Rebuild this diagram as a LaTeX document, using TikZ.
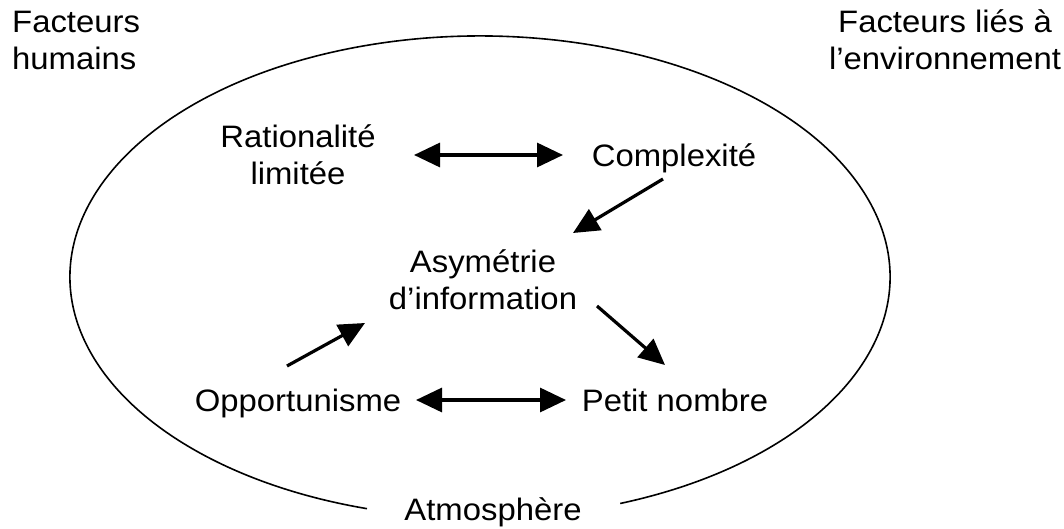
\documentclass[tikz,border=0pt]{standalone}
\usepackage{fontspec}
\setmainfont{Liberation Sans}[FakeStretch=1.06]
\usetikzlibrary{arrows.meta}
\begin{document}
\begin{tikzpicture}[x=1pt,y=-1pt,
  lbl/.style={font=\fontsize{31}{37}\selectfont, inner sep=0pt, align=center},
  arr/.style={line width=3.2pt, -{Triangle[length=26pt,width=24pt]}},
  darr/.style={line width=3.2pt, {Triangle[length=26pt,width=24pt]}-{Triangle[length=26pt,width=24pt]}},
  rim/.style={line width=1.6pt}]
\useasboundingbox (0,0) rectangle (1064,529);
\coordinate (ctr) at (480,277);
\draw[rim] ([shift={(-70:410pt and 241pt)}]ctr) arc[start angle=-70,end angle=254,x radius=410pt,y radius=241pt];

\node[lbl,anchor=base west,align=left] (hum) at (12,70) {Facteurs\\humains};
\node[lbl,anchor=base] (env) at (945,70) {Facteurs liés à\\l’environnement};
\node[lbl,anchor=base] (rat) at (298,185) {Rationalité\\limitée};
\node[lbl,anchor=base] (comp) at (674,167) {Complexité};
\node[lbl,anchor=base] (asym) at (483,309) {Asymétrie\\d’information};
\node[lbl,anchor=base] (opp) at (298,411) {Opportunisme};
\node[lbl,anchor=base] (petit) at (675,411) {Petit nombre};
\node[lbl,anchor=base] (atm) at (493,520) {Atmosphère};

\coordinate (a1) at (414,155); \coordinate (a2) at (563,155);
\coordinate (b1) at (663,179); \coordinate (b2) at (573,233);
\coordinate (c1) at (287,366); \coordinate (c2) at (365,323);
\coordinate (d1) at (597,306); \coordinate (d2) at (665,365);
\coordinate (e1) at (416,400); \coordinate (e2) at (566,400);

\draw[darr] (a1) -- (a2);
\draw[arr] (b1) -- (b2);
\draw[arr] (c1) -- (c2);
\draw[arr] (d1) -- (d2);
\draw[darr] (e1) -- (e2);
\end{tikzpicture}
\end{document}
